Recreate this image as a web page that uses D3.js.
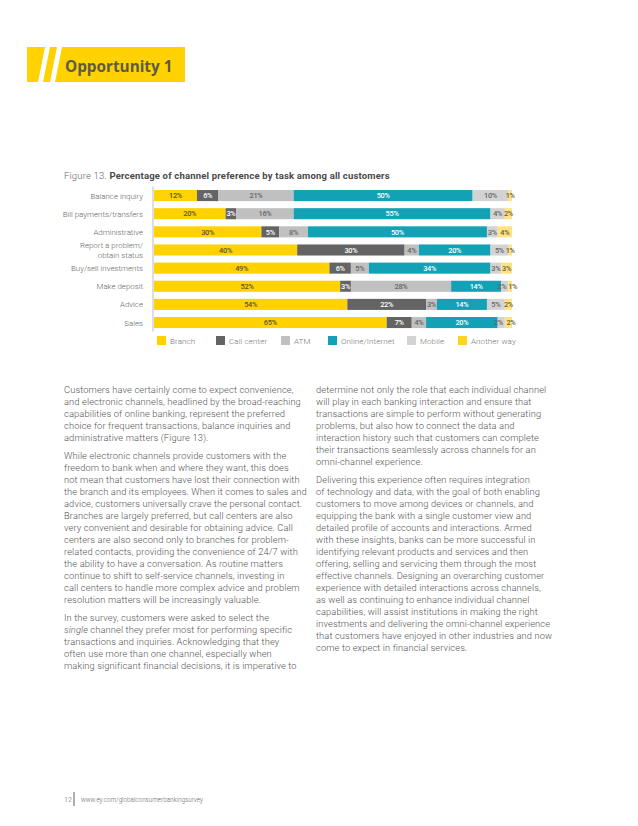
<!DOCTYPE html>
<html><head><meta charset="utf-8">
<script src="https://cdn.jsdelivr.net/npm/d3@7"></script>
<style>
html,body{margin:0;padding:0;background:#fff;}
svg{display:block;}
</style></head>
<body>
<svg id="c" width="638" height="826"></svg>
<script>
const categories = ["Balance inquiry","Bill payments/transfers","Administrative","Report a problem/\nobtain status","Buy/sell investments","Make deposit","Advice","Sales"];
const seriesNames = ["Branch","Call center","ATM","Online/Internet","Mobile","Another way"];
const branch   = [12,20,30,40,49,52,54,65];
const callCenter = [6,3,5,30,6,3,22,7];
const atm      = [21,16,8,4,5,28,3,4];
const online   = [50,55,50,20,34,14,14,20];
const mobile   = [10,4,3,5,3,2,5,2];
const another  = [1,2,4,1,3,1,2,2];

const colors = ["#ffd200","#646464","#c0c0c0","#12a1b5","#d3d3d3","#ffe383"];
const legendColors = ["#ffd200","#646464","#c0c0c0","#12a1b5","#d3d3d3","#ffd41e"];
const labelColors = ["#5a5530","#ffffff","#666666","#ffffff","#666666","#6a6040"];

const leftParas = [
 ["Customers have certainly come to expect convenience,",
  "and electronic channels, headlined by the broad-reaching",
  "capabilities of online banking, represent the preferred",
  "choice for frequent transactions, balance inquiries and",
  "administrative matters (Figure 13)."],
 ["While electronic channels provide customers with the",
  "freedom to bank when and where they want, this does",
  "not mean that customers have lost their connection with",
  "the branch and its employees. When it comes to sales and",
  "advice, customers universally crave the personal contact.",
  "Branches are largely preferred, but call centers are also",
  "very convenient and desirable for obtaining advice. Call",
  "centers are also second only to branches for problem-",
  "related contacts, providing the convenience of 24/7 with",
  "the ability to have a conversation. As routine matters",
  "continue to shift to self-service channels, investing in",
  "call centers to handle more complex advice and problem",
  "resolution matters will be increasingly valuable."],
 ["In the survey, customers were asked to select the",
  "*single* channel they prefer most for performing specific",
  "transactions and inquiries. Acknowledging that they",
  "often use more than one channel, especially when",
  "making significant financial decisions, it is imperative to"]
];
const rightParas = [
 ["determine not only the role that each individual channel",
  "will play in each banking interaction and ensure that",
  "transactions are simple to perform without generating",
  "problems, but also how to connect the data and",
  "interaction history such that customers can complete",
  "their transactions seamlessly across channels for an",
  "omni-channel experience."],
 ["Delivering this experience often requires integration",
  "of technology and data, with the goal of both enabling",
  "customers to move among devices or channels, and",
  "equipping the bank with a single customer view and",
  "detailed profile of accounts and interactions. Armed",
  "with these insights, banks can be more successful in",
  "identifying relevant products and services and then",
  "offering, selling and servicing them through the most",
  "effective channels.  Designing an overarching customer",
  "experience with detailed interactions across channels,",
  "as well as continuing to enhance individual channel",
  "capabilities, will assist institutions in making the right",
  "investments and delivering the omni-channel experience",
  "that customers have enjoyed in other industries and now",
  "come to expect in financial services."]
];

const svg = d3.select("#c");

// Header banner
const hdr = svg.append("g");
hdr.append("rect").attr("x",27).attr("y",47).attr("width",158).attr("height",35).attr("fill","#ffd200");
hdr.append("path").attr("d","M45,47 L50,47 L43,82 L38,82 Z").attr("fill","#fff");
hdr.append("path").attr("d","M57,47 L62,47 L55,82 L50,82 Z").attr("fill","#fff");
hdr.append("text").attr("x",65).attr("y",72).attr("font-family","'Open Sans',sans-serif")
  .attr("font-weight",700).attr("font-size",15.3).attr("fill","#5d5a46").text("Opportunity 1");

// Figure title
const ttl = svg.append("text").attr("x",64).attr("y",179).attr("font-family","Roboto,sans-serif").attr("font-size",9.5).attr("letter-spacing",0.18);
ttl.append("tspan").attr("fill","#666").attr("font-weight",300).text("Figure 13. ");
ttl.append("tspan").attr("fill","#4a4a4a").attr("font-weight",700).text("Percentage of channel preference by task among all customers");

// Chart
const data = categories.map((c,i)=>({cat:c, vals:[branch[i],callCenter[i],atm[i],online[i],mobile[i],another[i]]}));
const x = d3.scaleLinear().domain([0,100]).range([154,512]);
const y = d3.scaleBand().domain(categories).range([186.5,331.6]).paddingInner(0.39).paddingOuter(0.195);

const stackData = categories.map((c,i)=>{const o={cat:c}; seriesNames.forEach((s,j)=>o[s]=data[i].vals[j]); return o;});
const stack = d3.stack().keys(seriesNames)(stackData);

const g = svg.append("g");
stack.forEach((layer,j)=>{
  const lg = g.append("g");
  lg.selectAll("rect").data(layer).join("rect")
    .attr("x",d=>x(d[0])).attr("width",d=>x(d[1])-x(d[0]))
    .attr("y",d=>y(d.data.cat)).attr("height",y.bandwidth())
    .attr("fill",colors[j]);
});
// nudge for crowded tiny end segments
function nudge(j,d,i){
  const mob = mobile[i];
  if(j===4 && mob<=2) return -3;
  if(j===5 && mob<=2) return 2.5;
  return 0;
}
stack.forEach((layer,j)=>{
  g.append("g").selectAll("text").data(layer).join("text")
    .attr("x",(d,i)=>(x(d[0])+x(d[1]))/2 + nudge(j,d,i)).attr("y",d=>y(d.data.cat)+y.bandwidth()/2+2.7)
    .attr("text-anchor","middle").attr("font-family","Roboto,sans-serif").attr("font-size",7.4)
    .attr("font-weight",500).attr("fill",labelColors[j]).attr("letter-spacing",-0.3)
    .text(d=>(d[1]-d[0])+"%");
});

// axis line
svg.append("line").attr("x1",153).attr("x2",153).attr("y1",y.range()[0]).attr("y2",y.range()[1])
  .attr("stroke","#bdbdbd").attr("stroke-width",1);

// category labels
const cl = svg.append("g").attr("font-family","Roboto,sans-serif").attr("font-size",7.9).attr("font-weight",300).attr("fill","#666");
categories.forEach(c=>{
  const parts = c.split("\n");
  const cy = y(c)+y.bandwidth()/2;
  parts.forEach((p,k)=>{
    cl.append("text").attr("x",143).attr("y",cy+3 + (k-(parts.length-1)/2)*9.5).attr("text-anchor","end").text(p);
  });
});

// legend
const legX = [157,216,281,328,407,458];
const lgd = svg.append("g").attr("font-family","Roboto,sans-serif").attr("font-size",8).attr("font-weight",300).attr("fill","#777").attr("letter-spacing",0.1);
seriesNames.forEach((s,j)=>{
  lgd.append("rect").attr("x",legX[j]).attr("y",336).attr("width",9).attr("height",9).attr("fill",legendColors[j]);
  lgd.append("text").attr("x",legX[j]+13).attr("y",344).text(s);
});

// Body text
function drawCol(paras,x0,y0){
  const t = svg.append("g").attr("font-family","Roboto,sans-serif").attr("font-size",9.3).attr("font-weight",300).attr("fill","#555").attr("letter-spacing",0.12);
  let yy=y0;
  paras.forEach((p,pi)=>{
    if(pi>0) yy+=6;
    p.forEach(line=>{
      const tx = t.append("text").attr("x",x0).attr("y",yy);
      const m = line.match(/^\*(.+?)\*(.*)$/);
      if(m){ tx.append("tspan").attr("font-style","italic").text(m[1]); tx.append("tspan").text(m[2]); }
      else tx.text(line);
      yy+=12;
    });
  });
}
drawCol(leftParas,64,393);
drawCol(rightParas,316,393);

// footer
svg.append("text").attr("x",64).attr("y",802).attr("font-family","Roboto,sans-serif").attr("font-size",7).attr("font-weight",300).attr("fill","#666").text("12");
svg.append("line").attr("x1",74).attr("x2",74).attr("y1",792).attr("y2",806).attr("stroke","#333").attr("stroke-width",0.8);
svg.append("text").attr("x",81).attr("y",802).attr("font-family","Roboto,sans-serif").attr("font-size",6.3).attr("font-weight",300).attr("fill","#666").text("www.ey.com/globalconsumerbankingsurvey");
</script>
</body></html>
